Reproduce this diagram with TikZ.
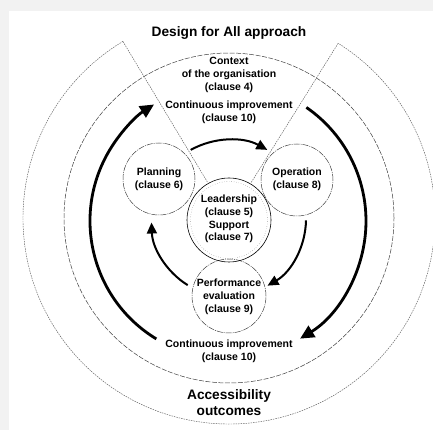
\documentclass[tikz,border=0pt]{standalone}
\usepackage{fontspec}
\setmainfont{Liberation Sans}
\usetikzlibrary{arrows.meta,calc}
\begin{document}
\begin{tikzpicture}[x=1pt,y=1pt,
  lbl/.style={font=\bfseries\fontsize{10.5}{12.8}\selectfont, align=center, inner sep=0pt},
  big/.style={font=\bfseries\fontsize{13.7}{15.5}\selectfont, align=center, inner sep=0pt},
  ring/.style={draw=black!75, line width=0.5pt, dash pattern=on 5pt off 1.5pt},
  outerring/.style={draw=black!65, line width=0.45pt, dash pattern=on 1.5pt off 1pt},
  stage/.style={circle, draw=black!75, line width=0.5pt, dash pattern=on 6pt off 1pt on 1pt off 1pt, minimum size=72pt, inner sep=0pt},
  bigarrow/.style={line width=2.8pt, -{Triangle[length=14pt,width=13pt]}},
  smallarrow/.style={line width=2pt, -{Triangle[length=11pt,width=10pt]}},
  wedge/.style={draw=black!65, line width=0.45pt, dash pattern=on 1.5pt off 1pt}
]
\useasboundingbox (0,0) rectangle (433,430);
\fill[black!5] (0,0) rectangle (433,430);
\fill[white] (9,0) rectangle (433,419);

\coordinate (C) at (229,212);
\coordinate (CA) at (228,209);
\coordinate (CI) at (229,211);

% outer ring (Accessibility outcomes) with Design for All wedge
\coordinate (wl) at ($(C)+(121:206)$);
\coordinate (wr) at ($(C)+(58:206)$);
\coordinate (wli) at ($(C)+(121:42)$);
\coordinate (wri) at ($(C)+(58:42)$);
\draw[outerring] (wl) arc[start angle=121, end angle=418, radius=206];
\draw[wedge] (wli) -- (wl);
\draw[wedge] (wri) -- (wr);

% context ring
\draw[ring] (C) circle[radius=165];

% continuous improvement arrows
\draw[bigarrow] ($(CA)+(238.7:138)$) arc[start angle=238.7, end angle=122.4, radius=138];
\draw[bigarrow] ($(CA)+(55.4:138)$) arc[start angle=55.4, end angle=-58.5, radius=138];

% stage circles
\node[stage] (plan) at (159,251) {};
\node[stage] (oper) at (297,250) {};
\node[stage, minimum size=74pt] (perf) at (229,134) {};
\node[circle, draw=black, line width=0.6pt, minimum size=84pt, inner sep=0pt] (lead) at (229,210) {};
\node[circle, draw=black!60, line width=0.4pt, dotted, minimum size=77pt, inner sep=0pt] (leadin) at (229,210) {};

% PDCA arrows
\draw[smallarrow] ($(CI)+(119:79)$) arc[start angle=119, end angle=61, radius=79];
\draw[smallarrow] ($(CI)+(-1:77)$) arc[start angle=-1, end angle=-60, radius=77];
\draw[smallarrow] ($(CI)+(238:78)$) arc[start angle=238, end angle=182, radius=77];

% texts
\node[big] (title) at (229,397) {Design for All approach};
\node[lbl] (context) at (229,355) {Context\\of the organisation\\(clause 4)};
\node[lbl] (citop) at (229,317.5) {Continuous improvement\\(clause 10)};
\node[lbl] (plantxt) at (plan) {Planning\\(clause 6)};
\node[lbl] (opertxt) at (297,251) {Operation\\(clause 8)};
\node[lbl] (leadtxt) at (229,211) {Leadership\\(clause 5)\\Support\\(clause 7)};
\node[lbl] (perftxt) at (229,133) {Performance\\evaluation\\(clause 9)};
\node[lbl] (cibot) at (229,78.5) {Continuous improvement\\(clause 10)};
\node[big] (acc) at (229,27.5) {Accessibility\\outcomes};
\end{tikzpicture}
\end{document}
